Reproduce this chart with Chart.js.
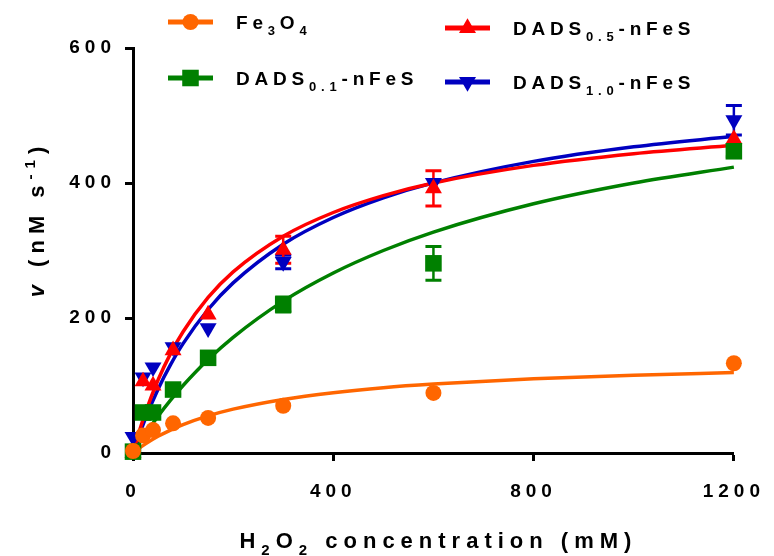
<!DOCTYPE html>
<html><head><meta charset="utf-8">
<script src="https://cdn.jsdelivr.net/npm/chart.js@4/dist/chart.umd.min.js"></script>
<style>html,body{margin:0;padding:0;background:#fff;}#wrap{width:774px;height:556px;position:relative;}</style>
</head><body><div id="wrap"><canvas id="c" width="774" height="556"></canvas></div>
<script>
// ---- data ----
const concentrations = [0, 20, 40, 80, 150, 300, 600, 1200];
const fe3o4 = [3, 26, 34, 44, 52, 70, 89, 133];
const fe3o4Err = [0, 0, 0, 0, 0, 0, 0, 0];
const dads01 = [2, 60, 60, 94, 141, 220, 281, 447];
const dads01Err = [0, 0, 0, 7, 0, 11, 25, 8];
const dads05 = [0, 106, 100, 152, 205, 301, 392, 465];
const dads05Err = [0, 0, 0, 0, 0, 20, 26, 0];
const dads10 = [24, 112, 127, 157, 185, 283, 400, 493];
const dads10Err = [0, 0, 0, 0, 0, 10, 0, 22];

// fitted curves
const curveX = [0, 10, 25, 50, 75, 100, 150, 200, 300, 400, 500, 600, 800, 1000, 1200];
const fe3o4Fit = [0, 5.7, 13.5, 24.7, 34.0, 42.1, 55.0, 65.0, 79.4, 89.4, 96.8, 102.1, 110.0, 115.3, 119.2];
const dads01Fit = [0, 11.8, 28.6, 54.5, 78.3, 100, 138.5, 171.4, 225, 266.7, 300, 327.3, 369.2, 400, 423.5];
const dads05Fit = [0, 25.9, 60.2, 108.2, 147.2, 179.7, 230.4, 268.4, 321.2, 356.3, 381.3, 400, 426.1, 443.5, 455.9];
const dads10Fit = [0, 21.8, 51.5, 94.5, 130.8, 162, 212.6, 252, 309.3, 348.9, 378, 400.2, 432, 453.6, 469.2];

const xTicks = [0, 400, 800, 1200];
const yTicks = [0, 200, 400, 600];

// ---- styles ----
const FONT = "'Liberation Sans', Arial, sans-serif";
const ORANGE = '#FF6600', GREEN = '#008000', RED = '#FF0000', BLUE = '#0000C0';

function pts(ys) { return concentrations.map((x, i) => ({ x: x, y: ys[i] })); }
function crv(ys) { return curveX.map((x, i) => ({ x: x, y: ys[i] })); }

function pointSet(label, ys, color, style, radius, rot, order) {
  return { label, data: pts(ys), showLine: false, pointStyle: style, pointRadius: radius, pointRotation: rot,
    pointBackgroundColor: color, pointBorderColor: color, pointBorderWidth: 0, backgroundColor: color, borderColor: color,
    pointHoverRadius: radius, order, clip: false };
}
function curveSet(ys, color, order) {
  return { data: crv(ys), showLine: true, pointRadius: 0, borderColor: color, borderWidth: 3.5, fill: false,
    cubicInterpolationMode: 'monotone', order, clip: false };
}

const datasets = [
  pointSet('Fe3O4', fe3o4, ORANGE, 'circle', 8, 0, 0),
  pointSet('DADS0.1-nFeS', dads01, GREEN, 'rect', 11.7, 0, 1),
  pointSet('DADS0.5-nFeS', dads05, RED, 'triangle', 9.8, 0, 2),
  pointSet('DADS1.0-nFeS', dads10, BLUE, 'triangle', 9.8, 180, 3),
  curveSet(fe3o4Fit, ORANGE, 10),
  curveSet(dads05Fit, RED, 11),
  curveSet(dads10Fit, BLUE, 12),
  curveSet(dads01Fit, GREEN, 13)
];

const errorSeries = [
  { ys: dads10, err: dads10Err, color: BLUE },
  { ys: dads05, err: dads05Err, color: RED },
  { ys: dads01, err: dads01Err, color: GREEN },
  { ys: fe3o4, err: fe3o4Err, color: ORANGE }
];

const TICK_SP = 5;
function segWidth(ctx, t, spacing) {
  ctx.letterSpacing = '0px';
  const w0 = ctx.measureText(t).width;
  ctx.letterSpacing = spacing + 'px';
  const w1 = ctx.measureText(t).width;
  if (w1 - w0 < 0.5 * spacing * t.length) return w0 + spacing * t.length;
  return w1;
}
function richFont(type, size) {
  const small = type === 'sub' || type === 'sup';
  const fs = small ? Math.round(size * 0.7) : size;
  return (type === 'i' ? 'italic ' : '') + 'bold ' + fs + 'px ' + FONT;
}
function richWidth(ctx, segs, size, spacing) {
  let w = 0;
  for (const [t, type] of segs) { ctx.font = richFont(type, size); w += segWidth(ctx, t, spacing); }
  return w - spacing;
}
function drawRich(ctx, segs, x, y, size, spacing) {
  let cx = x;
  for (const [t, type] of segs) {
    ctx.font = richFont(type, size);
    const dy = type === 'sub' ? size * 0.32 : (type === 'sup' ? -size * 0.42 : 0);
    const w = segWidth(ctx, t, spacing);
    ctx.letterSpacing = spacing + 'px';
    ctx.fillText(t, cx, y + dy);
    cx += w;
  }
}
function marker(ctx, style, x, y, r, rot, color) {
  ctx.fillStyle = color;
  ctx.beginPath();
  if (style === 'circle') { ctx.arc(x, y, r, 0, Math.PI * 2); }
  else if (style === 'rect') { const s = Math.SQRT1_2 * r; ctx.rect(x - s, y - s, 2 * s, 2 * s); }
  else {
    let a = rot * Math.PI / 180;
    ctx.moveTo(x + Math.sin(a) * r, y - Math.cos(a) * r);
    a += 2 * Math.PI / 3; ctx.lineTo(x + Math.sin(a) * r, y - Math.cos(a) * r);
    a += 2 * Math.PI / 3; ctx.lineTo(x + Math.sin(a) * r, y - Math.cos(a) * r);
    ctx.closePath();
  }
  ctx.fill();
}

const legendItems = [
  { segs: [['Fe', 'n'], ['3', 'sub'], ['O', 'n'], ['4', 'sub']], color: ORANGE, style: 'circle', r: 8, rot: 0, lx: 168, tx: 236, y: 22 },
  { segs: [['DADS', 'n'], ['0.1', 'sub'], ['-nFeS', 'n']], color: GREEN, style: 'rect', r: 11.7, rot: 0, lx: 168, tx: 236, y: 78 },
  { segs: [['DADS', 'n'], ['0.5', 'sub'], ['-nFeS', 'n']], color: RED, style: 'triangle', r: 9.8, rot: 0, lx: 445, tx: 513, y: 28 },
  { segs: [['DADS', 'n'], ['1.0', 'sub'], ['-nFeS', 'n']], color: BLUE, style: 'triangle', r: 9.8, rot: 180, lx: 445, tx: 513, y: 82 }
];

const spacingPlugin = {
  id: 'spacing',
  beforeDraw(chart) { chart.ctx.letterSpacing = TICK_SP + 'px'; }
};

const errorBarPlugin = {
  id: 'errbars',
  beforeDatasetsDraw(chart) {
    const ctx = chart.ctx, xs = chart.scales.x, ys = chart.scales.y;
    ctx.save();
    for (const s of errorSeries) {
      ctx.strokeStyle = s.color;
      concentrations.forEach((c, i) => {
        if (!s.err[i]) return;
        const px = xs.getPixelForValue(c);
        const yt = ys.getPixelForValue(s.ys[i] + s.err[i]);
        const yb = ys.getPixelForValue(s.ys[i] - s.err[i]);
        ctx.lineWidth = 2.5;
        ctx.beginPath(); ctx.moveTo(px, yt); ctx.lineTo(px, yb); ctx.stroke();
        ctx.lineWidth = 3;
        ctx.beginPath();
        ctx.moveTo(px - 8, yt); ctx.lineTo(px + 8, yt);
        ctx.moveTo(px - 8, yb); ctx.lineTo(px + 8, yb);
        ctx.stroke();
      });
    }
    ctx.restore();
  }
};

const textPlugin = {
  id: 'texts',
  afterDraw(chart) {
    const ctx = chart.ctx;
    ctx.save();
    ctx.fillStyle = '#000';
    ctx.textBaseline = 'alphabetic';
    ctx.textAlign = 'left';
    // legend
    for (const it of legendItems) {
      ctx.strokeStyle = it.color;
      ctx.lineWidth = 5;
      ctx.beginPath(); ctx.moveTo(it.lx, it.y); ctx.lineTo(it.lx + 45, it.y); ctx.stroke();
      marker(ctx, it.style, it.lx + 22.5, it.y, it.r, it.rot, it.color);
      ctx.fillStyle = '#000';
      drawRich(ctx, it.segs, it.tx, it.y + 7, 19, 4.8);
    }
    // x title
    const xt = [['H', 'n'], ['2', 'sub'], ['O', 'n'], ['2', 'sub'], [' concentration (mM)', 'n']];
    const a = chart.chartArea;
    const xw = richWidth(ctx, xt, 22, 6);
    ctx.fillStyle = '#000';
    drawRich(ctx, xt, (a.left + a.right) / 2 - xw / 2 + 2, 548, 22, 6);
    // y title
    const yt = [['v', 'i'], [' (nM s', 'n'], ['-1', 'sup'], [')', 'n']];
    const yw = richWidth(ctx, yt, 22, 6);
    ctx.save();
    ctx.translate(44, 222);
    ctx.rotate(-Math.PI / 2);
    drawRich(ctx, yt, -yw / 2, 0, 22, 6);
    ctx.restore();
    ctx.restore();
  }
};

const tickFont = { family: FONT, size: 19, weight: 'bold' };

new Chart(document.getElementById('c'), {
  type: 'scatter',
  data: { datasets },
  options: {
    responsive: false,
    animation: false,
    events: [],
    layout: { padding: { top: 48, right: 39, left: 0, bottom: 0 } },
    plugins: { legend: { display: false }, tooltip: { enabled: false }, title: { display: false } },
    scales: {
      x: {
        type: 'linear', min: 0, max: 1200,
        afterFit(s) { s.height = 103; },
        afterBuildTicks(s) { s.ticks = xTicks.map(v => ({ value: v })); },
        grid: { drawOnChartArea: false, drawTicks: true, tickLength: 8, tickWidth: 3, tickColor: '#000' },
        border: { display: true, color: '#000', width: 3 },
        ticks: { color: '#000', font: tickFont, padding: 19, maxRotation: 0, autoSkip: false, callback: v => String(v) }
      },
      y: {
        type: 'linear', min: 0, max: 600,
        afterFit(s) { s.width = 133; },
        afterBuildTicks(s) { s.ticks = yTicks.map(v => ({ value: v })); },
        grid: { drawOnChartArea: false, drawTicks: true, tickLength: 8, tickWidth: 3, tickColor: '#000' },
        border: { display: true, color: '#000', width: 3 },
        ticks: { color: '#000', font: tickFont, padding: 9, autoSkip: false, callback: v => String(v) }
      }
    }
  },
  plugins: [spacingPlugin, errorBarPlugin, textPlugin]
});
</script>
</body></html>
